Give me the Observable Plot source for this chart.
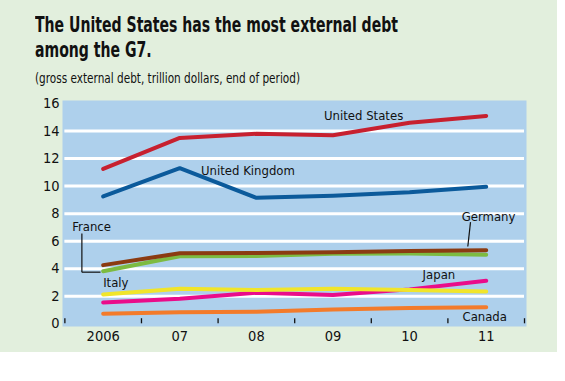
<!DOCTYPE html>
<html>
<head>
<meta charset="utf-8">
<script src="https://cdn.jsdelivr.net/npm/d3@7"></script>
<script src="https://cdn.jsdelivr.net/npm/@observablehq/plot@0.6"></script>
<style>
  html, body { margin: 0; padding: 0; background: #ffffff; }
  #panel { position: absolute; left: 0; top: 0; width: 557px; height: 352px; background: #e2efdd; overflow: hidden; }
  #title { position: absolute; left: 35px; top: 13px; font-family: "DejaVu Sans Condensed", "Liberation Sans", sans-serif; font-weight: bold; font-size: 21px; line-height: 25px; color: #111; white-space: nowrap; transform-origin: 0 0; }
  #subtitle { position: absolute; left: 35px; top: 70px; font-family: "DejaVu Sans Condensed", "Liberation Sans", sans-serif; font-size: 13.5px; color: #111; white-space: nowrap; transform-origin: 0 0; }
  #chart { position: absolute; left: 0; top: 90px; }
</style>
</head>
<body>
<div id="panel">
  <div id="title"><span id="t1">The United States has the most external debt</span><br><span>among the G7.</span></div>
  <div id="subtitle"><span id="s1">(gross external debt, trillion dollars, end of period)</span></div>
  <div id="chart"></div>
</div>
<script>
// ---- data ----
const years = [2006, 2007, 2008, 2009, 2010, 2011];
const yearLabels = ["2006", "07", "08", "09", "10", "11"];
const unitedStates = [11.25, 13.5, 13.8, 13.7, 14.6, 15.1];
const unitedKingdom = [9.25, 11.3, 9.15, 9.3, 9.55, 9.95];
const germany = [4.26, 5.13, 5.15, 5.2, 5.28, 5.35];
const france = [3.82, 4.9, 4.92, 5.08, 5.1, 5.02];
const italy = [2.13, 2.54, 2.45, 2.54, 2.45, 2.35];
const japan = [1.55, 1.82, 2.25, 2.1, 2.5, 3.12];
const canada = [0.73, 0.84, 0.87, 1.04, 1.14, 1.21];
const yTicks = [0, 2, 4, 6, 8, 10, 12, 14, 16];
const gridValues = [2, 4, 6, 8, 10, 12, 14];
const yearBounds = [2005.5, 2006.5, 2007.5, 2008.5, 2009.5, 2010.5, 2011.5];

const seriesNames = ["Canada", "Japan", "Italy", "France", "Germany", "United Kingdom", "United States"];
const seriesValues = [canada, japan, italy, france, germany, unitedKingdom, unitedStates];
const seriesColors = ["#f37b2b", "#ea0c8a", "#f1e52a", "#7dbb41", "#8b3b12", "#0b5a9b", "#c7202f"];

// annotation labels (data coordinates)
const labelText = ["United States", "United Kingdom", "France", "Italy", "Germany", "Japan", "Canada"];
const labelX = [2009.40, 2007.89, 2005.595, 2006.0, 2010.68, 2010.17, 2010.69];
const labelY = [15.13, 11.13, 7.02, 3.0, 7.79, 3.58, 0.48];
const labelAnchor = ["middle", "middle", "start", "start", "start", "start", "start"];

// leader lines
const leaders = [
  {x1: 2005.722, y1: 6.56, x2: 2005.722, y2: 3.75},
  {x1: 2005.722, y1: 3.75, x2: 2005.965, y2: 3.75},
  {x1: 2010.795, y1: 7.38, x2: 2010.76, y2: 5.61}
];

// ---- build tables ----
const rows = [];
seriesNames.forEach((name, i) => {
  years.forEach((yr, j) => rows.push({country: name, year: yr, value: seriesValues[i][j]}));
});
const labels = labelText.map((t, i) => ({text: t, x: labelX[i], y: labelY[i], anchor: labelAnchor[i]}));

const font = '"DejaVu Sans Condensed", "Liberation Sans", sans-serif';

const plot = Plot.plot({
  width: 557,
  height: 262,
  marginLeft: 62,
  marginRight: 31,
  marginTop: 10,
  marginBottom: 26,
  style: {fontFamily: font, fontSize: "14px", color: "#111", background: "transparent"},
  x: {domain: [2005.469, 2011.526], axis: null},
  y: {domain: [-0.196, 16.218], axis: null},
  color: {domain: seriesNames, range: seriesColors},
  marks: [
    Plot.frame({fill: "#aed0ec", stroke: null}),
    Plot.ruleY(gridValues, {x1: yearBounds[0], x2: yearBounds[yearBounds.length - 1], stroke: "#ffffff", strokeWidth: 3}),
    Plot.ruleX(yearBounds, {y1: 0, y2: 0.37, stroke: "#111", strokeWidth: 1.3}),
    Plot.axisX(years, {tickSize: 0, tickPadding: 4, tickFormat: (d) => yearLabels[years.indexOf(d)], fontSize: 14.5, fill: "#111"}),
    Plot.axisY(yTicks, {tickSize: 0, tickPadding: 3, fontSize: 14.5, fill: "#111", label: null}),
    ...seriesNames.map((name) =>
      Plot.line(rows.filter(r => r.country === name), {x: "year", y: "value", stroke: "country", strokeWidth: 4, strokeLinecap: "round", strokeLinejoin: "round"})
    ),
    Plot.link(leaders, {x1: "x1", y1: "y1", x2: "x2", y2: "y2", stroke: "#111", strokeWidth: 1.2}),
    Plot.text(labels.filter(d => d.anchor === "middle"), {x: "x", y: "y", text: "text", textAnchor: "middle", fontSize: 13, fill: "#111"}),
    Plot.text(labels.filter(d => d.anchor === "start"), {x: "x", y: "y", text: "text", textAnchor: "start", fontSize: 13, fill: "#111"})
  ]
});
document.getElementById("chart").appendChild(plot);

// fit condensed-looking heading widths
function fit(boxId, spanId, target) {
  const w = document.getElementById(spanId).getBoundingClientRect().width;
  if (w > 0) document.getElementById(boxId).style.transform = `scaleX(${target / w})`;
}
fit("title", "t1", 363);
fit("subtitle", "s1", 265);
</script>
</body>
</html>
